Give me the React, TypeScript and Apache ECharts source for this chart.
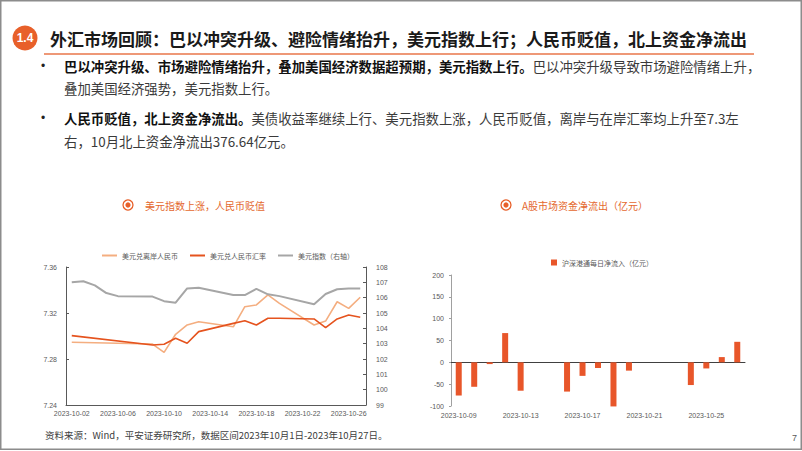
import React, { useEffect, useRef } from "react";
import * as echarts from "echarts";

// ---- Left chart data (daily, 2023-10-02 .. 2023-10-27) ----
const fxDates = [
  "2023-10-02", "2023-10-03", "2023-10-04", "2023-10-05", "2023-10-06", "2023-10-07", "2023-10-08",
  "2023-10-09", "2023-10-10", "2023-10-11", "2023-10-12", "2023-10-13", "2023-10-14", "2023-10-15",
  "2023-10-16", "2023-10-17", "2023-10-18", "2023-10-19", "2023-10-20", "2023-10-21", "2023-10-22",
  "2023-10-23", "2023-10-24", "2023-10-25", "2023-10-26", "2023-10-27",
];
const cnhValues = [
  7.2945, null, null, null, null, null, null,
  7.293, 7.2858, 7.3015, 7.3096, 7.3124, null, null,
  7.308, 7.3255, 7.327, 7.3357, 7.3284, null, null,
  7.3096, 7.313, 7.3298, 7.324, 7.3337,
];
const cnyValues = [
  7.3003, null, null, null, null, null, null,
  7.2922, 7.2928, 7.298, 7.2937, 7.3038, null, null,
  7.311, 7.3133, 7.3096, 7.3154, 7.3154, null, null,
  7.3148, 7.3072, 7.3148, 7.3183, 7.3163,
];
const dxyValues = [
  107.0, 107.07, 106.8, 106.3, 106.1, null, null,
  106.07, 105.77, 105.67, 106.6, 106.65, null, null,
  106.17, 106.17, 106.57, 106.22, 106.1, null, null,
  105.57, 106.24, 106.55, 106.6, 106.6,
];

// ---- Right chart data (daily, 2023-10-09 .. 2023-10-27) ----
const flowDates = [
  "2023-10-09", "2023-10-10", "2023-10-11", "2023-10-12", "2023-10-13", "2023-10-14", "2023-10-15",
  "2023-10-16", "2023-10-17", "2023-10-18", "2023-10-19", "2023-10-20", "2023-10-21", "2023-10-22",
  "2023-10-23", "2023-10-24", "2023-10-25", "2023-10-26", "2023-10-27",
];
const flowValues = [
  -76, -56, -4, 67, -65, null, null,
  -67, -31, -13, -101, -19, null, null,
  null, -52, -14, 12, 47,
];

const seriesNames = ["美元兑离岸人民币", "美元兑人民币汇率", "美元指数（右轴）", "沪深港通每日净流入（亿元）"];

const titleText = "外汇市场回顾：巴以冲突升级、避险情绪抬升，美元指数上行；人民币贬值，北上资金净流出";
const bulletLines = [
  ["巴以冲突升级、市场避险情绪抬升，叠加美国经济数据超预期，美元指数上行。", "巴以冲突升级导致市场避险情绪上升，"],
  ["", "叠加美国经济强势，美元指数上行。"],
  ["人民币贬值，北上资金净流出。", "美债收益率继续上行、美元指数上涨，人民币贬值，离岸与在岸汇率均上升至7.3左"],
  ["", "右，10月北上资金净流出376.64亿元。"],
];
const chartTitles = ["美元指数上涨，人民币贬值", "A股市场资金净流出（亿元）"];
const sourceText = "资料来源：Wind，平安证券研究所，数据区间2023年10月1日-2023年10月27日。";

const ORANGE = "#E8602A";
const LIGHT = "#F4AE80";
const DARK = "#E5531E";
const GRAY = "#A6A6A6";
const AX = "#595959";
const FONT = '"Liberation Sans", Arial, "Noto Sans CJK SC", sans-serif';
const CJK = '"Noto Sans CJK SC", "Liberation Sans", sans-serif';

export default function App() {
  const ref = useRef<HTMLDivElement>(null);
  useEffect(() => {
    document.body.style.margin = "0";
    const chart = echarts.init(ref.current!, null, { renderer: "svg" });
    const lineY = [66, 88, 118, 141];
    const graphic: any[] = [
      { type: "rect", shape: { x: 0.75, y: 0.75, width: 800.5, height: 448.5 }, style: { fill: "none", stroke: "#8c8c8c", lineWidth: 1.5 } },
      { type: "circle", shape: { cx: 25, cy: 38, r: 12.5 }, style: { fill: ORANGE } },
      { type: "text", x: 25, y: 38, style: { text: "1.4", fontSize: 12, fontWeight: "bold", fontFamily: FONT, fill: "#fff", align: "center", verticalAlign: "middle" } },
      { type: "text", x: 50, y: 38, style: { text: titleText, fontSize: 17, fontWeight: "bold", fontFamily: CJK, fill: "#1a1a1a", verticalAlign: "middle" } },
      { type: "line", shape: { x1: 44, y1: 54, x2: 754, y2: 54 }, style: { stroke: "#E8764A", lineWidth: 1.5 } },
      { type: "text", x: 41, y: lineY[0], style: { text: "•", fontSize: 12, fontFamily: FONT, fill: "#222", verticalAlign: "middle" } },
      { type: "text", x: 41, y: lineY[2], style: { text: "•", fontSize: 12, fontFamily: FONT, fill: "#222", verticalAlign: "middle" } },
      { type: "circle", shape: { cx: 128, cy: 205, r: 5 }, style: { fill: "none", stroke: ORANGE, lineWidth: 1.3 } },
      { type: "circle", shape: { cx: 128, cy: 205, r: 2.6 }, style: { fill: ORANGE } },
      { type: "text", x: 145, y: 205, style: { text: chartTitles[0], fontSize: 10, fontFamily: CJK, fill: "#E4682E", verticalAlign: "middle" } },
      { type: "circle", shape: { cx: 506, cy: 205, r: 5 }, style: { fill: "none", stroke: ORANGE, lineWidth: 1.3 } },
      { type: "circle", shape: { cx: 506, cy: 205, r: 2.6 }, style: { fill: ORANGE } },
      { type: "text", x: 522, y: 205, style: { text: chartTitles[1], fontSize: 10, fontFamily: CJK, fill: "#E4682E", verticalAlign: "middle" } },
      { type: "text", x: 45, y: 435, style: { text: sourceText, fontSize: 9.5, fontFamily: CJK, fill: "#404040", verticalAlign: "middle" } },
      { type: "text", x: 792, y: 438, style: { text: "7", fontSize: 9, fontFamily: FONT, fill: "#595959", verticalAlign: "middle" } },
    ];
    bulletLines.forEach((ln, i) => {
      const t = (ln[0] ? "{b|" + ln[0] + "}" : "") + "{n|" + ln[1] + "}";
      graphic.push({
        type: "text", x: 64, y: lineY[i],
        style: {
          text: t, fontSize: 13.4, fontFamily: CJK, verticalAlign: "middle",
          rich: {
            b: { fontSize: 13.4, fontWeight: "bold", fill: "#111", fontFamily: CJK },
            n: { fontSize: 13.4, fill: "#3a3a3a", fontFamily: CJK },
          },
        },
      });
    });

    const labelStyle = { fontSize: 7, color: AX, fontFamily: FONT };
    chart.setOption({
      animation: false,
      graphic,
      legend: [
        {
          data: seriesNames.slice(0, 3), left: 97, top: 247, icon: "rect", itemWidth: 15, itemHeight: 2, itemGap: 12,
          textStyle: { fontSize: 7, color: AX, fontFamily: CJK },
        },
        {
          data: [seriesNames[3]], left: 546, top: 254, icon: "rect", itemWidth: 6, itemHeight: 6, itemGap: 5,
          textStyle: { fontSize: 7, color: AX, fontFamily: CJK },
        },
      ],
      grid: [
        { left: 66, top: 267, width: 300, height: 138 },
        { left: 451, top: 275, width: 294, height: 131 },
      ],
      xAxis: [
        {
          type: "category", gridIndex: 0, data: fxDates, boundaryGap: true,
          axisLine: { lineStyle: { color: AX, width: 1 } },
          axisTick: { interval: 3, inside: true, length: 3, lineStyle: { color: AX } },
          axisLabel: { ...labelStyle, interval: 3, margin: 5 },
        },
        {
          type: "category", gridIndex: 1, data: flowDates, boundaryGap: true, position: "bottom",
          axisLine: { onZero: true, lineStyle: { color: "#404040", width: 1 } },
          axisTick: { interval: 3, inside: true, length: 3, lineStyle: { color: "#404040" } },
          axisLabel: { show: false },
        },
        {
          type: "category", gridIndex: 1, data: flowDates, boundaryGap: true, position: "bottom",
          axisLine: { show: false, onZero: false },
          axisTick: { show: false },
          axisLabel: { ...labelStyle, interval: 3, margin: 6 },
        },
      ],
      yAxis: [
        {
          type: "value", gridIndex: 0, min: 7.24, max: 7.36, interval: 0.04,
          axisLine: { show: true, lineStyle: { color: AX } },
          axisTick: { show: true, inside: true, length: 3, lineStyle: { color: AX } },
          axisLabel: { ...labelStyle, margin: 9, formatter: (v: number) => v.toFixed(2) },
          splitLine: { show: false },
        },
        {
          type: "value", gridIndex: 0, min: 99, max: 108, interval: 1, position: "right",
          axisLine: { show: true, lineStyle: { color: AX } },
          axisTick: { show: true, inside: true, length: 3, lineStyle: { color: AX } },
          axisLabel: { ...labelStyle, margin: 10 },
          splitLine: { show: false },
        },
        {
          type: "value", gridIndex: 1, min: -100, max: 200, interval: 50,
          axisLine: { show: true, lineStyle: { color: "#A0A0A0" } },
          axisTick: { show: true, length: 2, lineStyle: { color: "#A0A0A0" } },
          axisLabel: { ...labelStyle, margin: 7 },
          splitLine: { show: false },
        },
      ],
      series: [
        {
          name: seriesNames[0], type: "line", xAxisIndex: 0, yAxisIndex: 0, data: cnhValues, connectNulls: true,
          showSymbol: false, symbol: "none", itemStyle: { color: LIGHT }, lineStyle: { color: LIGHT, width: 1.6 },
        },
        {
          name: seriesNames[1], type: "line", xAxisIndex: 0, yAxisIndex: 0, data: cnyValues, connectNulls: true,
          showSymbol: false, symbol: "none", itemStyle: { color: DARK }, lineStyle: { color: DARK, width: 1.6 },
        },
        {
          name: seriesNames[2], type: "line", xAxisIndex: 0, yAxisIndex: 1, data: dxyValues, connectNulls: true,
          showSymbol: false, symbol: "none", itemStyle: { color: GRAY }, lineStyle: { color: GRAY, width: 2 },
        },
        {
          name: seriesNames[3], type: "bar", xAxisIndex: 1, yAxisIndex: 2, data: flowValues, barWidth: 6,
          clip: false, itemStyle: { color: "#E8562A" },
        },
      ],
    });
    return () => chart.dispose();
  }, []);
  return <div ref={ref} style={{ position: "fixed", left: 0, top: 0, width: 802, height: 451, background: "#fff" }} />;
}
